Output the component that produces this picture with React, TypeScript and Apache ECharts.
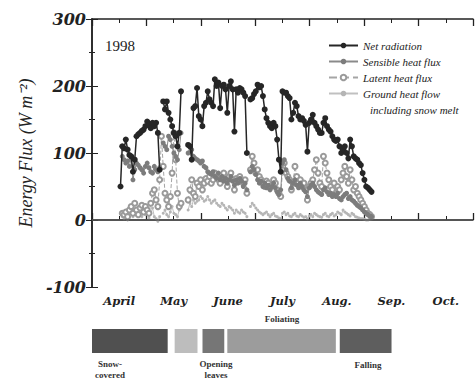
import React, { useEffect, useRef } from 'react';
import * as echarts from 'echarts';

// x values are days counted from 1 April (day 0) to 31 October (day 214)
const monthLabels = ['April', 'May', 'June', 'July', 'Aug.', 'Sep.', 'Oct.'];
const dayCount = 214;
const startDay = 16;

const netRadiation = [
  50, 110, 107, 120, 105, 97, 95, 72, 90, 125, 128, 130, 133, 135, 140, 147, 142, 137, 145, 140, 145, 130, 75, null,
  177, 165, 177, 160, 150, 140, 130, 125, 110, 130, 192, null, null, null, 112, 110, 90, 167, 170, 197, 155, 150,
  140, 170, 175, 192, 180, 175, 170, 210, 200, 205, 167, 200, 202, 195, 160, 200, 207, 195, 132, 195, 190, 197,
  195, 190, 185, 100, null, 180, 182, 188, 192, 202, 198, 200, 185, 165, 152, 145, 140, 137, 145, 140, 120, 90,
  72, 192, 190, 190, 185, 182, 150, 160, 175, 170, 155, 150, 152, 148, 142, 102, 145, 150, 157, 145, 140, 135,
  130, 130, 145, 152, 140, 135, 132, 125, 120, 118, 120, 110, 100, 105, 110, 100, 92, 120, 110, 95, 92, 90, 85,
  82, 70, 60, 50, 48, 45, 42,
];

const sensibleHeat = [
  null, 95, 90, 85, 88, 80, 92, 60, 75, 85, 82, 78, 75, 70, 80, 85, 78, 72, 70, 80, 75, 72, 78, null,
  115, 110, 105, 125, 120, 110, 100, 95, 90, 105, 130, null, null, null, 100, 110, 105, 95, 92, 90, 88, 85,
  88, 80, 78, 72, 70, 68, 72, 65, 62, 70, 60, 65, 58, 62, 55, 60, 65, 58, 52, 60, 55, 62,
  58, 50, 55, 45, null, 72, 80, 75, 68, 60, 55, 58, 50, 55, 48, 52, 45, 50, 55, 48, 42, 38,
  45, 85, 90, 75, 62, 58, 48, 55, 60, 52, 48, 55, 50, 45, 42, 35, 48, 52, 55, 50, 45, 42,
  40, 38, 45, 48, 42, 38, 40, 35, 38, 35, 40, 32, 30, 35, 38, 40, 32, 35, 30, 28, 25, 22, 20,
  18, 15, 12, 10, 8, 6, 5,
];

const latentHeat = [
  null, 10, 8, 12, 5, 15, 20, 10, 25, 15, 8, 18, 22, 12, 20, 15, 10, 25, 40, 45, 30, 20, 60, 125,
  80, 40, 30, 20, 35, 70, 130, 90, 40, 20, 25, null, null, null, 30, 45, 60, 40, 35, 55, 50, 60,
  45, 55, 62, 58, 65, 55, 60, 70, 65, 60, 55, 62, 70, 60, 50, 65, 70, 60, 45, 62, 58, 65,
  60, 55, 60, 40, null, 75, 95, 85, 70, 75, 65, 60, 55, 50, 58, 55, 48, 52, 60, 55, 45, 40,
  35, 75, 85, 70, 65, 60, 45, 55, 80, 65, 55, 60, 50, 55, 45, 30, 50, 55, 60, 75, 90, 70,
  55, 50, 95, 85, 70, 60, 50, 45, 55, 40, 50, 45, 60, 70, 80, 65, 55, 75, 60, 45, 50, 40, 35,
  30, 25, 20, 15, 10, 8, 5,
];

const groundHeat = [
  null, 5, 2, 8, 0, 10, 15, 5, 12, 8, 20, 10, 5, 15, 8, 12, 3, 10, 18, 5, 2, -2, 5, null,
  10, 15, 8, 5, 12, 20, 10, 8, 5, 15, 20, null, null, null, 15, 25, 20, 30, 25, 28, 30, 35,
  32, 28, 30, 35, 30, 25, 28, 30, 25, 22, 20, 25, 22, 18, 15, 20, 18, 15, 10, 15, 12, 10,
  15, 12, 10, 5, null, 20, 25, 22, 18, 15, 12, 10, 8, 10, 12, 8, 5, 8, 10, 6, 5, 3,
  2, 10, 12, 8, 10, 6, 5, 8, 10, 6, 5, 8, 6, 4, 5, 2, 6, 8, 5, 10, 8, 6,
  5, 4, 8, 10, 6, 5, 8, 10, 6, 8, 12, 10, 8, 15, 12, 10, 8, 6, 10, 8, 5, 4, 3,
  2, 2, 1, 0, 0, 1, 2,
];

// phenology periods (days from 1 April)
const phaseStart = [0, 46.3, 61.9, 75.8, 138.8];
const phaseEnd = [42.4, 59.1, 74.1, 136.6, 167.8];

const phaseShade = ['#505050', '#bdbdbd', '#767676', '#9c9c9c', '#5e5e5e'];
const serif = 'Liberation Serif';
const boldSerif = 'DejaVu Serif';

const toPairs = (vals: (number | null)[]) => vals.map((v, i) => [startDay + i, v]);

export default function App() {
  const ref = useRef<HTMLDivElement>(null);
  useEffect(() => {
    if (!ref.current) return;
    const chart = echarts.init(ref.current, null, { renderer: 'svg' });
    const half = dayCount / 14;
    const month = dayCount / 7;
    const axisLineStyle = { color: '#222', width: 1.5 };
    const option = {
      animation: false,
      backgroundColor: '#fff',
      textStyle: { fontFamily: serif },
      grid: [
        { left: 92, right: 2, top: 19, height: 268 },
        { left: 92, right: 2, top: 329, height: 24 },
      ],
      legend: {
        orient: 'vertical',
        left: 323,
        top: 35,
        itemWidth: 29,
        itemHeight: 7,
        itemGap: 5,
        textStyle: { fontFamily: serif, fontStyle: 'italic', fontSize: 11, color: '#222' },
        data: ['Net radiation', 'Sensible heat flux', 'Latent heat flux', 'Ground heat flow'],
      },
      xAxis: [
        {
          gridIndex: 0, type: 'value', min: 0, max: dayCount, interval: half, position: 'bottom',
          axisLine: { show: true, lineStyle: axisLineStyle },
          axisTick: { show: true, inside: true, length: 4, lineStyle: { color: '#222' } },
          splitLine: { show: false },
          axisLabel: {
            margin: 8, fontFamily: boldSerif, fontStyle: 'italic', fontWeight: 'bold', fontSize: 11.5, color: '#222',
            showMinLabel: true, showMaxLabel: true,
            formatter: (v: number) => {
              const k = Math.round(v / half);
              return k % 2 === 1 ? monthLabels[(k - 1) / 2] : '';
            },
          },
        },
        {
          gridIndex: 0, type: 'value', min: 0, max: dayCount, interval: month, position: 'bottom',
          axisLine: { show: false }, axisLabel: { show: false }, splitLine: { show: false },
          axisTick: { show: true, inside: true, length: 7, lineStyle: { color: '#222', width: 1.3 } },
        },
        {
          gridIndex: 0, type: 'value', min: 0, max: dayCount, interval: half, position: 'top',
          axisLine: { show: true, lineStyle: axisLineStyle }, axisLabel: { show: false }, splitLine: { show: false },
          axisTick: { show: true, inside: true, length: 4, lineStyle: { color: '#222' } },
        },
        {
          gridIndex: 0, type: 'value', min: 0, max: dayCount, interval: month, position: 'top',
          axisLine: { show: false }, axisLabel: { show: false }, splitLine: { show: false },
          axisTick: { show: true, inside: true, length: 7, lineStyle: { color: '#222', width: 1.3 } },
        },
        { gridIndex: 1, type: 'value', min: 0, max: dayCount, show: false },
      ],
      yAxis: [
        {
          gridIndex: 0, type: 'value', min: -100, max: 300, interval: 100, position: 'left',
          axisLine: { show: true, lineStyle: axisLineStyle },
          axisTick: { show: true, inside: true, length: 6, lineStyle: { color: '#222' } },
          minorTick: { show: true, splitNumber: 2, length: 3, lineStyle: { color: '#222' } },
          splitLine: { show: false },
          axisLabel: { margin: 6, fontFamily: boldSerif, fontStyle: 'italic', fontWeight: 'bold', fontSize: 16, color: '#222' },
          name: 'Energy Flux (W m\u207B\u00B2)',
          nameLocation: 'middle',
          nameGap: 54,
          nameTextStyle: { fontFamily: serif, fontStyle: 'italic', fontSize: 18, color: '#222' },
        },
        {
          gridIndex: 0, type: 'value', min: -100, max: 300, interval: 100, position: 'right',
          axisLine: { show: true, lineStyle: axisLineStyle },
          axisTick: { show: true, inside: true, length: 6, lineStyle: { color: '#222' } },
          minorTick: { show: true, splitNumber: 2, length: 3, lineStyle: { color: '#222' } },
          splitLine: { show: false }, axisLabel: { show: false },
        },
        { gridIndex: 1, type: 'value', min: 0, max: 1, show: false },
      ],
      graphic: [
        { type: 'text', left: 105, top: 38, style: { text: '1998', fontFamily: serif, fontSize: 15, fill: '#222' } },
        { type: 'text', left: 370, top: 104, style: { text: 'including snow melt', fontFamily: serif, fontStyle: 'italic', fontSize: 11, fill: '#222' } },
        { type: 'text', x: 282, y: 314, style: { text: 'Foliating', align: 'center', fontFamily: serif, fontWeight: 'bold', fontSize: 9, fill: '#333' } },
        { type: 'text', x: 110, y: 358, style: { text: 'Snow-\ncovered', align: 'center', lineHeight: 11, fontFamily: serif, fontWeight: 'bold', fontSize: 9, fill: '#333' } },
        { type: 'text', x: 216, y: 358, style: { text: 'Opening\nleaves', align: 'center', lineHeight: 11, fontFamily: serif, fontWeight: 'bold', fontSize: 9, fill: '#333' } },
        { type: 'text', x: 368, y: 360, style: { text: 'Falling', align: 'center', fontFamily: serif, fontWeight: 'bold', fontSize: 9, fill: '#333' } },
      ],
      series: [
        {
          name: 'Ground heat flow', type: 'line', xAxisIndex: 0, yAxisIndex: 0,
          data: toPairs(groundHeat), symbol: 'circle', symbolSize: 3,
          itemStyle: { color: '#b5b5b5' }, lineStyle: { color: '#c0c0c0', width: 1 }, z: 2,
        },
        {
          name: 'Latent heat flux', type: 'line', xAxisIndex: 0, yAxisIndex: 0,
          data: toPairs(latentHeat), symbol: 'emptyCircle', symbolSize: 5,
          itemStyle: { color: '#9a9a9a', borderWidth: 1 }, lineStyle: { color: '#a5a5a5', width: 1, type: 'dashed' }, z: 3,
        },
        {
          name: 'Sensible heat flux', type: 'line', xAxisIndex: 0, yAxisIndex: 0,
          data: toPairs(sensibleHeat), symbol: 'circle', symbolSize: 5,
          itemStyle: { color: '#7c7c7c' }, lineStyle: { color: '#8a8a8a', width: 1 }, z: 4,
        },
        {
          name: 'Net radiation', type: 'line', xAxisIndex: 0, yAxisIndex: 0,
          data: toPairs(netRadiation), symbol: 'circle', symbolSize: 6,
          itemStyle: { color: '#262626' }, lineStyle: { color: '#262626', width: 1.5 }, z: 5,
          markLine: {
            silent: true, symbol: 'none', label: { show: false },
            lineStyle: { color: '#555', width: 1.5, type: 'solid' },
            data: [{ yAxis: 0 }],
          },
        },
        {
          type: 'custom', xAxisIndex: 4, yAxisIndex: 2,
          data: phaseStart.map((s, i) => [s, phaseEnd[i]]),
          renderItem: (params: any, api: any) => {
            const p0 = api.coord([api.value(0), 0]);
            const p1 = api.coord([api.value(1), 1]);
            return {
              type: 'rect',
              shape: { x: p0[0], y: p1[1], width: p1[0] - p0[0], height: p0[1] - p1[1] },
              style: { fill: phaseShade[params.dataIndex] },
            };
          },
        },
      ],
    };
    chart.setOption(option as any);
    return () => chart.dispose();
  }, []);
  return <div ref={ref} style={{ position: 'fixed', left: 0, top: 0, width: 476, height: 379 }} />;
}
